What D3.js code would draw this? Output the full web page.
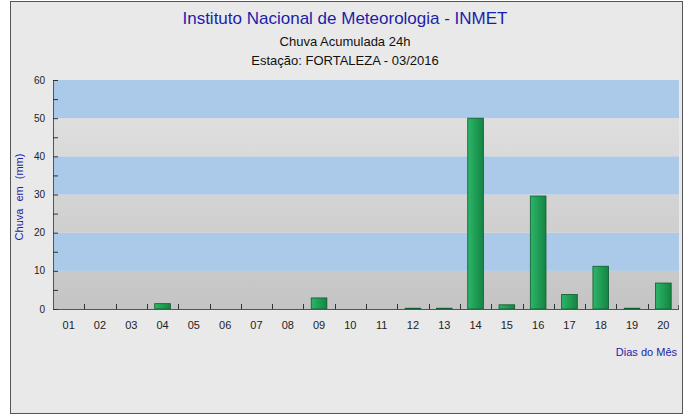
<!DOCTYPE html>
<html>
<head>
<meta charset="utf-8">
<script src="https://cdn.jsdelivr.net/npm/d3@7"></script>
<style>
	body { margin: 0; background: #fff; }
	svg { display: block; font-family: "Liberation Sans Narrow", "Liberation Sans", Arial, sans-serif; }
</style>
</head>
<body>
<div id="wrapper"></div>
<script>
// Data
const days = ['01','02','03','04','05','06','07','08','09','10',
	'11','12','13','14','15','16','17','18','19','20']
const rain = [0, 0, 0, 1.4, 0, 0, 0, 0, 2.9, 0,
	0, 0.2, 0.2, 50, 1.1, 29.6, 3.8, 11.2, 0.2, 6.8]
const yTicks = [0, 10, 20, 30, 40, 50, 60]

function drawChart() {
	const dimensions = {
		width: 690,
		height: 416,
		margin: { top: 80, right: 11, bottom: 107, left: 53 }
	}
	dimensions.boundedWidth = dimensions.width - dimensions.margin.left - dimensions.margin.right
	dimensions.boundedHeight = dimensions.height - dimensions.margin.top - dimensions.margin.bottom

	const wrapper = d3.select('#wrapper')
		.append('svg')
			.attr('width', dimensions.width)
			.attr('height', dimensions.height)

	const defs = wrapper.append('defs')
	const barGrad = defs.append('linearGradient').attr('id', 'barGrad')
		.attr('x1', 0).attr('x2', 1).attr('y1', 0).attr('y2', 0)
	barGrad.append('stop').attr('offset', '0%').attr('stop-color', '#2fb36a')
	barGrad.append('stop').attr('offset', '50%').attr('stop-color', '#1f9e55')
	barGrad.append('stop').attr('offset', '100%').attr('stop-color', '#168344')

	// one gradient over the whole plot, grey bands get darker toward the bottom
	const greyGrad = defs.append('linearGradient').attr('id', 'greyGrad')
		.attr('gradientUnits', 'userSpaceOnUse')
		.attr('x1', 0).attr('x2', 0).attr('y1', 0).attr('y2', dimensions.boundedHeight)
	greyGrad.append('stop').attr('offset', '0%').attr('stop-color', '#e4e4e4')
	greyGrad.append('stop').attr('offset', '100%').attr('stop-color', '#c4c4c4')

	// background + frame
	wrapper.append('rect')
		.attr('x', 10.5).attr('y', 1.5)
		.attr('width', 672).attr('height', 412)
		.attr('fill', '#e9e9e9')
		.attr('stroke', '#555')
		.attr('stroke-width', 1)

	const bounds = wrapper.append('g')
		.attr('transform', `translate(${dimensions.margin.left}, ${dimensions.margin.top})`)

	// Scales
	const xScale = d3.scaleBand()
		.domain(days)
		.range([0, dimensions.boundedWidth])
		.paddingInner(0.5)
		.paddingOuter(0.25)

	const yScale = d3.scaleLinear()
		.domain([0, 60])
		.range([dimensions.boundedHeight, 0])

	// Bands
	const bands = d3.range(0, 60, 10)
	bounds.selectAll('.band')
		.data(bands)
		.join('rect')
			.attr('class', 'band')
			.attr('x', 0)
			.attr('width', dimensions.boundedWidth)
			.attr('y', d => yScale(d + 10))
			.attr('height', d => yScale(d) - yScale(d + 10))
			.attr('fill', d => (d / 10) % 2 === 1 ? '#abc9e9' : 'url(#greyGrad)')

	// Bars
	bounds.selectAll('.bar')
		.data(rain)
		.join('rect')
			.attr('class', 'bar')
			.attr('x', (d, i) => xScale(days[i]))
			.attr('width', xScale.bandwidth())
			.attr('y', d => yScale(d))
			.attr('height', d => dimensions.boundedHeight - yScale(d))
			.attr('fill', 'url(#barGrad)')
			.attr('stroke', '#0f5a2e')
			.attr('stroke-width', 0.8)
			.attr('display', d => d > 0 ? null : 'none')

	// Axes lines
	bounds.append('line')
		.attr('x1', 0.5).attr('x2', 0.5)
		.attr('y1', 0).attr('y2', dimensions.boundedHeight)
		.attr('stroke', '#555')
	bounds.append('line')
		.attr('x1', 0).attr('x2', dimensions.boundedWidth)
		.attr('y1', dimensions.boundedHeight + 0.5).attr('y2', dimensions.boundedHeight + 0.5)
		.attr('stroke', '#555')
	bounds.append('line')
		.attr('x1', dimensions.boundedWidth - 0.5).attr('x2', dimensions.boundedWidth - 0.5)
		.attr('y1', dimensions.boundedHeight - 4).attr('y2', dimensions.boundedHeight)
		.attr('stroke', '#555')

	// Y ticks
	const yAxis = d3.axisRight(yScale)
		.tickValues(d3.range(0, 61, 5))
		.tickSize(5)
		.tickFormat('')
	bounds.append('g')
		.call(yAxis)
		.call(g => g.select('.domain').remove())
		.call(g => g.selectAll('line').attr('stroke', '#333'))

	bounds.selectAll('.ylabel')
		.data(yTicks)
		.join('text')
			.attr('class', 'ylabel')
			.attr('x', -8)
			.attr('y', d => yScale(d))
			.attr('dy', '0.35em')
			.attr('text-anchor', 'end')
			.attr('font-size', 10)
			.attr('fill', '#222')
			.text(d => d)

	// X ticks at band boundaries
	const step = xScale.step()
	bounds.selectAll('.xtick')
		.data(days.slice(1))
		.join('line')
			.attr('class', 'xtick')
			.attr('x1', d => Math.round(xScale(d) - step * 0.25) + 0.5)
			.attr('x2', d => Math.round(xScale(d) - step * 0.25) + 0.5)
			.attr('y1', dimensions.boundedHeight)
			.attr('y2', dimensions.boundedHeight - 5)
			.attr('stroke', '#333')

	bounds.selectAll('.xlabel')
		.data(days)
		.join('text')
			.attr('class', 'xlabel')
			.attr('x', d => xScale(d) + xScale.bandwidth() / 2)
			.attr('y', dimensions.boundedHeight + 20)
			.attr('text-anchor', 'middle')
			.attr('font-size', 11)
			.attr('fill', '#222')
			.text(d => d)

	// Titles
	wrapper.append('text')
		.attr('x', 345).attr('y', 24)
		.attr('text-anchor', 'middle')
		.attr('font-size', 17)
		.attr('fill', '#1d1dab')
		.text('Instituto Nacional de Meteorologia - INMET')
	wrapper.append('text')
		.attr('x', 345).attr('y', 46)
		.attr('text-anchor', 'middle')
		.attr('font-size', 13)
		.attr('fill', '#111')
		.text('Chuva Acumulada 24h')
	wrapper.append('text')
		.attr('x', 345).attr('y', 65)
		.attr('text-anchor', 'middle')
		.attr('font-size', 13)
		.attr('fill', '#111')
		.text('Estação: FORTALEZA - 03/2016')

	wrapper.append('text')
		.attr('transform', 'translate(23, 197) rotate(-90)')
		.attr('text-anchor', 'middle')
		.attr('font-size', 11)
		.attr('fill', '#1d1dab')
		.attr('word-spacing', 4)
		.text('Chuva em (mm)')

	wrapper.append('text')
		.attr('x', 677).attr('y', 356)
		.attr('text-anchor', 'end')
		.attr('font-size', 11)
		.attr('fill', '#1d1dab')
		.text('Dias do Mês')
}
drawChart()
</script>
</body>
</html>
